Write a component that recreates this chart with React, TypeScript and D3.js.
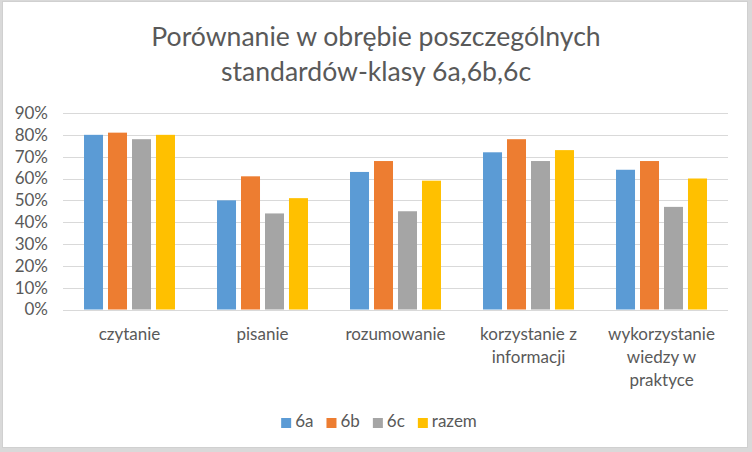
import React, { useEffect, useRef } from "react";
import * as d3 from "d3";

const titleLines = ["Porównanie w obrębie poszczególnych", "standardów-klasy 6a,6b,6c"];
const categories = ["czytanie", "pisanie", "rozumowanie", "korzystanie z\ninformacji", "wykorzystanie\nwiedzy w\npraktyce"];
const seriesNames = ["6a", "6b", "6c", "razem"];
const values6a = [0.80, 0.50, 0.63, 0.72, 0.64];
const values6b = [0.81, 0.61, 0.68, 0.78, 0.68];
const values6c = [0.78, 0.44, 0.45, 0.68, 0.47];
const valuesRazem = [0.80, 0.51, 0.59, 0.73, 0.60];
const seriesColors = ["#5B9BD5", "#ED7D31", "#A5A5A5", "#FFC000"];
const yTicks = [0, 0.1, 0.2, 0.3, 0.4, 0.5, 0.6, 0.7, 0.8, 0.9];

const W = 752;
const H = 452;
const FONT = "Lato, 'Open Sans', sans-serif";
const TEXT = "#595959";

export default function App() {
  const ref = useRef<SVGSVGElement | null>(null);

  useEffect(() => {
    const svg = d3.select(ref.current);
    svg.selectAll("*").remove();
    const series = [values6a, values6b, values6c, valuesRazem];

    svg.append("rect").attr("x", 0).attr("y", 0).attr("width", W).attr("height", H).attr("fill", "#D9D9D9");
    svg.append("rect").attr("x", 2.5).attr("y", 1.5).attr("width", 745).attr("height", 446)
      .attr("fill", "#FFFFFF").attr("stroke", "#D0D0D0").attr("stroke-width", 1);

    const left = 63, right = 728, top = 113, bottom = 309.5;
    const y = d3.scaleLinear().domain([0, 0.9]).range([bottom, top]);
    const x0 = d3.scaleBand<string>().domain(categories).range([left, right]).paddingInner(0.316).paddingOuter(0.158);
    const x1 = d3.scaleBand<string>().domain(seriesNames).range([0, x0.bandwidth()]).paddingInner(0.208).paddingOuter(0);

    // title
    const t = svg.append("text").attr("text-anchor", "middle").attr("font-family", FONT)
      .attr("font-size", 26.6).attr("fill", TEXT);
    titleLines.forEach((l, i) => {
      t.append("tspan").attr("x", 376).attr("y", 46 + i * 35).text(l);
    });

    // gridlines
    svg.append("g").selectAll("line").data(yTicks).join("line")
      .attr("x1", left).attr("x2", right)
      .attr("y1", (d) => Math.round(y(d)) + 0.5).attr("y2", (d) => Math.round(y(d)) + 0.5)
      .attr("stroke", "#D9D9D9").attr("stroke-width", 1);

    // y labels
    svg.append("g").selectAll("text").data(yTicks).join("text")
      .attr("x", 48).attr("y", (d) => y(d)).attr("dy", "0.35em")
      .attr("text-anchor", "end").attr("font-family", FONT).attr("font-size", 17).attr("fill", TEXT)
      .text((d) => d3.format(".0%")(d));

    // bars
    const groups = svg.append("g").selectAll("g").data(categories).join("g")
      .attr("transform", (c) => `translate(${x0(c)},0)`);
    groups.selectAll("rect").data((c) => seriesNames.map((s, si) => ({ s, si, v: series[si][categories.indexOf(c)] })))
      .join("rect")
      .attr("x", (d) => x1(d.s)!).attr("width", x1.bandwidth())
      .attr("y", (d) => y(d.v)).attr("height", (d) => y(0) - y(d.v))
      .attr("fill", (d) => seriesColors[d.si]);

    // x labels
    const xl = svg.append("g").selectAll("text").data(categories).join("text")
      .attr("text-anchor", "middle").attr("font-family", FONT).attr("font-size", 17).attr("fill", TEXT);
    xl.each(function (c) {
      const el = d3.select(this);
      c.split("\n").forEach((line, i) => {
        el.append("tspan").attr("x", x0(c)! + x0.bandwidth() / 2).attr("y", 340 + i * 23).text(line);
      });
    });

    // legend
    const lg = svg.append("g");
    const items = lg.selectAll("g").data(seriesNames).join("g");
    items.append("rect").attr("width", 10).attr("height", 10).attr("y", -9).attr("fill", (d, i) => seriesColors[i]);
    items.append("text").attr("x", 14).attr("y", 0).attr("font-family", FONT).attr("font-size", 17).attr("fill", TEXT).text((d) => d);
    let pos = 0;
    const widths: number[] = [];
    items.each(function () {
      const tw = (d3.select(this).select("text").node() as SVGTextElement).getComputedTextLength();
      widths.push(14 + tw);
    });
    const gap = 13;
    const total = d3.sum(widths) + gap * (widths.length - 1);
    const start = 379 - total / 2;
    items.attr("transform", (d, i) => {
      const px = start + pos;
      pos += widths[i] + gap;
      return `translate(${px},427)`;
    });
  }, []);

  return (
    <svg ref={ref} width={W} height={H} style={{ display: "block", position: "absolute", left: 0, top: 0 }} />
  );
}
